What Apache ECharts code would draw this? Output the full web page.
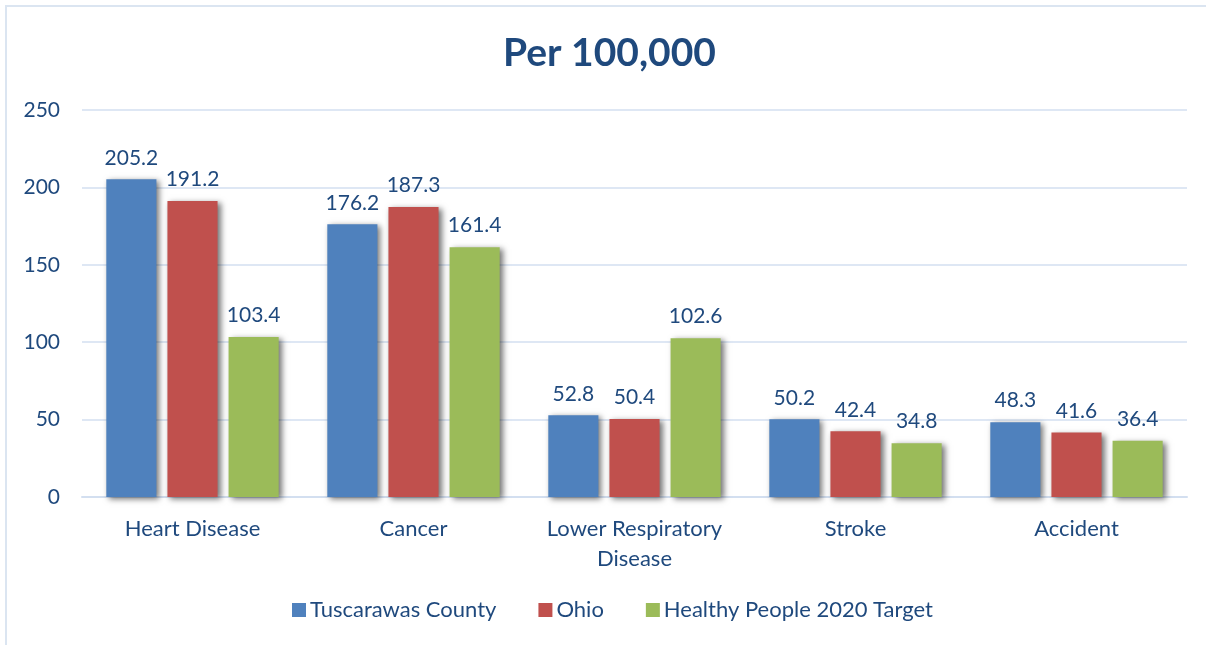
<!DOCTYPE html>
<html>
<head>
<meta charset="utf-8">
<script src="https://cdn.jsdelivr.net/npm/echarts@6/dist/echarts.min.js"></script>
<style>
  html, body { margin: 0; padding: 0; background: #fff; }
  #frame { position: absolute; left: 5px; top: 5px; width: 1210px; height: 650px;
           border-left: 2px solid #dbe5f1; border-top: 2px solid #dbe5f1; }
  #main { position: absolute; left: 0; top: 0; width: 1206px; height: 645px; }
</style>
</head>
<body>
<div id="frame"></div>
<div id="main"></div>
<script>
// categories and values
var categories = ['Heart Disease', 'Cancer', 'Lower Respiratory\nDisease', 'Stroke', 'Accident'];
var county = [205.2, 176.2, 52.8, 50.2, 48.3];
var ohio = [191.2, 187.3, 50.4, 42.4, 41.6];
var target = [103.4, 161.4, 102.6, 34.8, 36.4];
var seriesNames = ['Tuscarawas County', 'Ohio', 'Healthy People 2020 Target'];

var textColor = '#1f497d';
var fontFamily = 'Lato, "Open Sans", sans-serif';

function makeSeries(name, data, color) {
	return {
		name: name,
		type: 'bar',
		data: data,
		barGap: '22%',
		barCategoryGap: '22%',
		itemStyle: {
			color: color,
			shadowColor: 'rgba(0, 0, 0, 0.55)',
			shadowBlur: 6,
			shadowOffsetX: 3,
			shadowOffsetY: 2
		},
		label: {
			show: true,
			position: 'top',
			distance: 11,
			color: textColor,
			fontSize: 21,
			fontFamily: fontFamily,
			formatter: function (p) { return p.value.toFixed(1); }
		}
	};
}

var myChart = echarts.init(document.getElementById('main'));

var option = {
	textStyle: { fontFamily: fontFamily },
	title: {
		text: 'Per 100,000',
		left: 498,
		top: 29,
		textStyle: { color: textColor, fontSize: 39, fontWeight: 'bold', fontFamily: fontFamily }
	},
	legend: {
		data: seriesNames,
		bottom: 19,
		left: 287,
		icon: 'rect',
		itemWidth: 14,
		itemHeight: 14,
		itemGap: 42,
		textStyle: { color: textColor, fontSize: 22, fontFamily: fontFamily, padding: [0, 0, 0, -1] }
	},
	grid: { left: 82, right: 19, top: 110, bottom: 148 },
	xAxis: {
		type: 'category',
		data: categories,
		axisLine: { lineStyle: { color: '#d3dff0', width: 2 } },
		axisTick: { show: false },
		axisLabel: { interval: 0, color: textColor, fontSize: 22, margin: 17, lineHeight: 30, fontFamily: fontFamily }
	},
	yAxis: {
		type: 'value',
		min: 0,
		max: 250,
		interval: 50,
		axisLine: { show: false },
		axisTick: { show: false },
		axisLabel: { color: textColor, fontSize: 21, margin: 22, fontFamily: fontFamily },
		splitLine: { lineStyle: { color: '#d3dff0', width: 1.5 } }
	},
	series: [
		makeSeries(seriesNames[0], county, '#4f81bd'),
		makeSeries(seriesNames[1], ohio, '#c0504d'),
		makeSeries(seriesNames[2], target, '#9bbb59')
	]
};

myChart.setOption(option);
</script>
</body>
</html>
